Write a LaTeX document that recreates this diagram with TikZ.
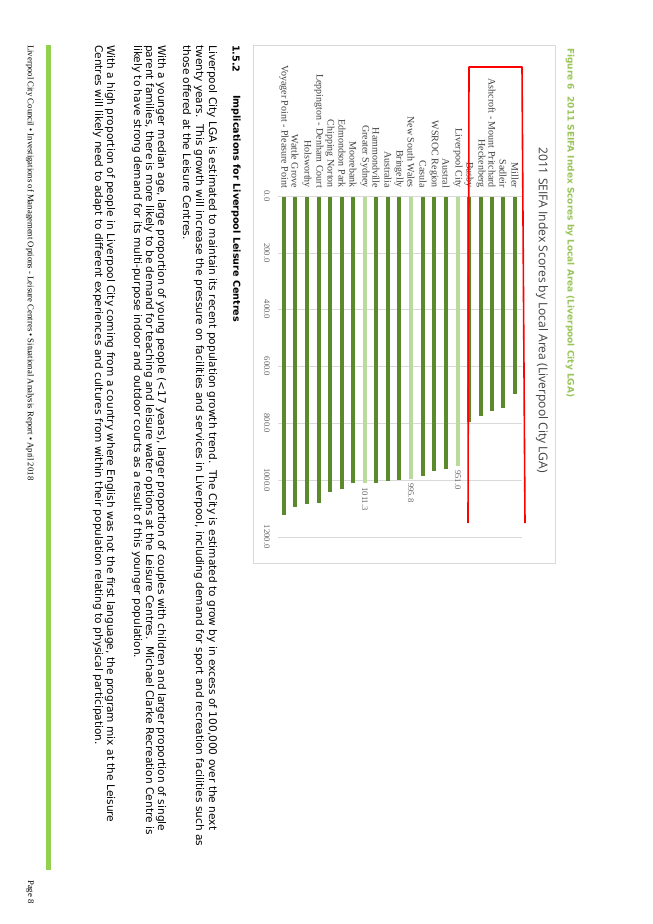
\documentclass[tikz,border=0pt]{standalone}
\usepackage{fontspec}
\setmainfont{DejaVu Sans}
\newfontfamily\chartfont{Liberation Serif}
\newfontfamily\titlefont{Open Sans}
\definecolor{bardark}{HTML}{5A8A2B}
\definecolor{barlight}{HTML}{B9DB9C}
\definecolor{capgreen}{HTML}{9BC45A}
\definecolor{gridgray}{HTML}{D9D9D9}
\definecolor{footgreen}{HTML}{92D050}
\tikzset{
  vtext/.style={rotate=-90,inner sep=0pt},
  bodyline/.style={vtext,anchor=west,font=\fontsize{10.6}{11}\selectfont},
  catlabel/.style={vtext,anchor=east,font=\chartfont\fontsize{10}{11}\selectfont,text=black!75},
  ticklabel/.style={vtext,font=\chartfont\fontsize{8.6}{9}\selectfont,text=black!60},
}
\begin{document}
\begin{tikzpicture}[x=1pt,y=-1pt]
  \useasboundingbox [fill=white] (0,0) rectangle (653,924);

  % caption and chart frame
  \node [vtext,anchor=west,font=\bfseries\fontsize{9}{10}\selectfont,text=capgreen] (caption) at (570,48)
    {Figure 6\ \ 2011 SEIFA Index Scores by Local Area (Liverpool City LGA)};
  \draw [gridgray] (253,45) rectangle (555,563);
  \node [vtext,anchor=west,font=\titlefont\fontsize{12.1}{13}\selectfont,text=black!75] (charttitle) at (542,147)
    {2011 SEIFA Index Scores by Local Area (Liverpool City LGA)};

  % grid and value axis
  \foreach \v in {0,200,...,1200} {
    \draw [gridgray] (278,{196+0.284*\v}) -- (522,{196+0.284*\v});
    \node [ticklabel] (tick\v) at (267,{196+0.284*\v}) {\v.0};
  }

  % bars
  \foreach \x/\v/\c/\n [count=\i] in {
      515/697/bardark/Miller, 503/746/bardark/Sadleir,
      492/757/bardark/Ashcroft - Mount Pritchard, 481/775/bardark/Heckenberg,
      469/796/bardark/Busby, 458/951/barlight/Liverpool City,
      446/961/bardark/Austral, 434/968/bardark/WSROC Region,
      423/986/bardark/Casula, 411/995.8/barlight/New South Wales,
      399/1000/bardark/Bringelly, 388/1002/bardark/Australia,
      376/1010/bardark/Hammondville, 365/1011.3/barlight/Greater Sydney,
      353/1012/bardark/Moorebank, 342/1031/bardark/Edmondson Park,
      330/1042/bardark/Chipping Norton, 319/1080/bardark/Leppington - Denham Court,
      307/1085/bardark/Holsworthy, 295/1094/bardark/Wattle Grove,
      284/1123/bardark/Voyager Point - Pleasure Point} {
    \fill [\c] (\x-2,197) rectangle (\x+2,{196+0.284*\v});
    \node [catlabel] (cat\i) at (\x,188) {\n};
  }
  \node [ticklabel,anchor=west] (val6) at (458,{200+0.284*951}) {951.0};
  \node [ticklabel,anchor=west] (val10) at (411,{200+0.284*995.8}) {995.8};
  \node [ticklabel,anchor=west] (val14) at (365,{200+0.284*1011.3}) {1011.3};

  % highlight
  \draw [red,line width=1.6pt,line join=round] (468,523) -- (469,67) -- (522,67) -- (525,523);

  % section text
  \node [bodyline,font=\bfseries\fontsize{9.6}{11}\selectfont] (secnum) at (236,45) {1.5.2};
  \node [bodyline,font=\bfseries\fontsize{9.6}{11}\selectfont] (sectitle) at (236,95) {Implications for Liverpool Leisure Centres};

  \node [bodyline] (p1a) at (212,45) {Liverpool City LGA is estimated to maintain its recent population growth trend.\ \ The City is estimated to grow by in excess of 100,000 over the next};
  \node [bodyline] (p1b) at (199,45) {twenty years.\ \ This growth will increase the pressure on facilities and services in Liverpool, including demand for sport and recreation facilities such as};
  \node [bodyline] (p1c) at (187,45) {those offered at the Leisure Centres.};

  \node [bodyline] (p2a) at (161,45) {With a younger median age, large proportion of young people (<17 years), larger proportion of couples with children and larger proportion of single};
  \node [bodyline] (p2b) at (149,45) {parent families, there is more likely to be demand for teaching and leisure water options at the Leisure Centres.\ \ Michael Clarke Recreation Centre is};
  \node [bodyline] (p2c) at (137,45) {likely to have strong demand for its multi-purpose indoor and outdoor courts as a result of this younger population.};

  \node [bodyline] (p3a) at (110,45) {With a high proportion of people in Liverpool City coming from a country where English was not the first language, the program mix at the Leisure};
  \node [bodyline] (p3b) at (98,45) {Centres will likely need to adapt to different experiences and cultures from within their population relating to physical participation.};

  % footer
  \fill [footgreen] (46,45) rectangle (51,870);
  \node [vtext,anchor=west,font=\chartfont\fontsize{8.7}{9}\selectfont] (footer) at (30,45)
    {Liverpool City Council \textbullet{} Investigations of Management Options - Leisure Centres \textbullet{} Situational Analysis Report \textbullet{} April 2018};
  \node [vtext,anchor=west,font=\chartfont\fontsize{8.7}{9}\selectfont] (pagenum) at (30,880) {Page 8};
\end{tikzpicture}
\end{document}
